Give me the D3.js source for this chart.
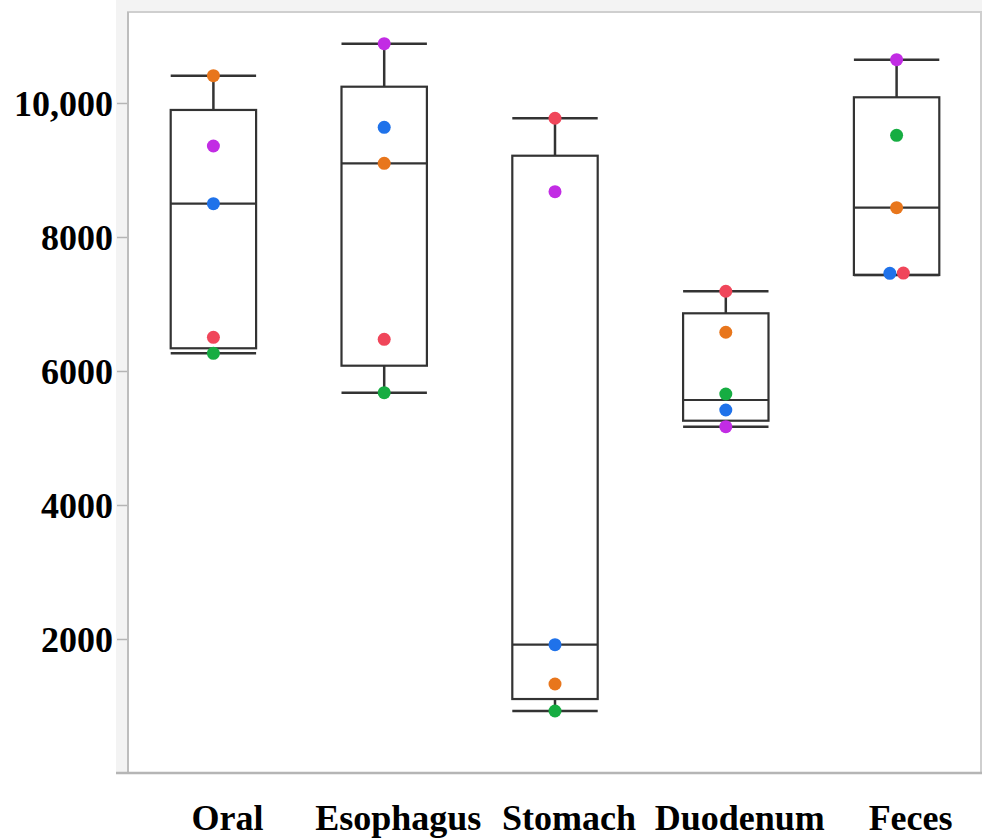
<!DOCTYPE html>
<html>
<head>
<meta charset="utf-8">
<script src="https://cdn.jsdelivr.net/npm/d3@7"></script>
<style>
  html, body { margin: 0; padding: 0; background: #fff; }
  svg { display: block; }
  .tick-label { font-family: "Liberation Serif", "Times New Roman", serif; font-weight: bold; fill: #000; }
</style>
</head>
<body>
<svg id="chart" width="982" height="839"></svg>
<script>
// Sample sites along the digestive tract
const categories = ["Oral", "Esophagus", "Stomach", "Duodenum", "Feces"];

// Individual subject values per site (same order as categories)
const subjectOrange = [10407, 9100, 1328, 6578, 8437];
const subjectPurple = [9358, 10885, 8676, 5169, 10646];
const subjectBlue   = [8497, 9637, 1915, 5418, 7458];
const subjectRed    = [6503, 6473, 9772, 7190, 7462];
const subjectGreen  = [6264, 5676, 925, 5657, 9518];

// Box summary per site
const whiskerLow  = [6264, 5676, 925, 5169, 7433];
const quartile1   = [6339, 6079, 1104, 5258, 7433];
const medianVal   = [8497, 9100, 1915, 5567, 8437];
const quartile3   = [9896, 10243, 9213, 6861, 10085];
const whiskerHigh = [10407, 10885, 9772, 7190, 10646];

// Axis ticks
const yTicks = [2000, 4000, 6000, 8000, 10000];
const yTickLabels = ["2000", "4000", "6000", "8000", "10,000"];

const series = [
  { name: "orange", color: "#e8761c", values: subjectOrange },
  { name: "purple", color: "#c22ce4", values: subjectPurple },
  { name: "blue",   color: "#1f72ea", values: subjectBlue },
  { name: "red",    color: "#f0465a", values: subjectRed },
  { name: "green",  color: "#16ad42", values: subjectGreen }
];

const svg = d3.select("#chart");
const W = 982, H = 839;
const plot = { left: 128, right: 981, top: 12, bottom: 773 };

const x = d3.scaleBand().domain(categories).range([plot.left, W]).padding(0);
const y = d3.scaleLinear().domain([0, 11358]).range([plot.bottom, plot.top]);

// Outer light frame and plot panel
svg.append("rect")
  .attr("x", 116).attr("y", 0)
  .attr("width", W - 116).attr("height", plot.bottom)
  .attr("fill", "#f3f3f3");
svg.append("rect")
  .attr("x", plot.left).attr("y", plot.top)
  .attr("width", plot.right - plot.left).attr("height", plot.bottom - plot.top)
  .attr("fill", "#ffffff")
  .attr("stroke", "#cfcfcf").attr("stroke-width", 2);

// Y axis
const yAxis = d3.axisLeft(y)
  .tickValues(yTicks)
  .tickFormat((d, i) => yTickLabels[i])
  .tickSize(11)
  .tickPadding(4);
const gy = svg.append("g").attr("transform", `translate(${plot.left},0)`).call(yAxis);
gy.select(".domain").remove();
gy.selectAll(".tick line").attr("stroke", "#b5b5b5").attr("stroke-width", 1.5);
gy.selectAll(".tick text")
  .attr("class", "tick-label")
  .attr("font-size", 36)
  .attr("dy", "0.34em");
svg.append("line")
  .attr("x1", plot.left).attr("x2", plot.left)
  .attr("y1", plot.top).attr("y2", plot.bottom)
  .attr("stroke", "#bdbdbd").attr("stroke-width", 2);

// X axis
const xAxis = d3.axisBottom(x).tickSize(0).tickPadding(0);
const gx = svg.append("g").attr("transform", `translate(0,${plot.bottom})`).call(xAxis);
gx.select(".domain").remove();
gx.selectAll(".tick text")
  .attr("class", "tick-label")
  .attr("font-size", 36)
  .attr("dx", 14)
  .attr("y", 57)
  .attr("dy", 0);
svg.append("line")
  .attr("x1", 116).attr("x2", W)
  .attr("y1", plot.bottom).attr("y2", plot.bottom)
  .attr("stroke", "#b5b5b5").attr("stroke-width", 2.5);

// Box plots
const boxW = x.bandwidth() * 0.5;
const stroke = "#333333";
const boxes = categories.map((c, i) => ({
  cat: c, lo: whiskerLow[i], q1: quartile1[i], med: medianVal[i], q3: quartile3[i], hi: whiskerHigh[i]
}));
const gb = svg.append("g");
boxes.forEach(b => {
  const cx = x(b.cat) + x.bandwidth() / 2;
  const g = gb.append("g").attr("stroke", stroke).attr("fill", "none");
  // whiskers
  g.append("line").attr("x1", cx).attr("x2", cx).attr("y1", y(b.hi)).attr("y2", y(b.q3)).attr("stroke-width", 2.5);
  g.append("line").attr("x1", cx).attr("x2", cx).attr("y1", y(b.q1)).attr("y2", y(b.lo)).attr("stroke-width", 2.5);
  g.append("line").attr("x1", cx - boxW / 2).attr("x2", cx + boxW / 2).attr("y1", y(b.hi)).attr("y2", y(b.hi)).attr("stroke-width", 2.5);
  g.append("line").attr("x1", cx - boxW / 2).attr("x2", cx + boxW / 2).attr("y1", y(b.lo)).attr("y2", y(b.lo)).attr("stroke-width", 2.5);
  // box
  g.append("rect")
    .attr("x", cx - boxW / 2).attr("y", y(b.q3))
    .attr("width", boxW).attr("height", y(b.q1) - y(b.q3))
    .attr("stroke-width", 2.2);
  // median
  g.append("line").attr("x1", cx - boxW / 2).attr("x2", cx + boxW / 2).attr("y1", y(b.med)).attr("y2", y(b.med)).attr("stroke-width", 2.2);
});

// Points: overlapping points within a site are spread sideways
const r = 6.5;
const points = [];
categories.forEach((c, ci) => {
  const cx = x(c) + x.bandwidth() / 2;
  const pts = series.map((s, si) => ({ cat: c, si, color: s.color, v: s.values[ci], py: y(s.values[ci]), px: cx }));
  const used = new Set();
  pts.forEach((p, i) => {
    if (used.has(i)) return;
    const group = pts.filter((q, j) => !used.has(j) && Math.abs(q.py - p.py) < 3);
    group.forEach((q, k) => {
      used.add(pts.indexOf(q));
      q.px = cx + (k - (group.length - 1) / 2) * 13.5;
    });
  });
  points.push(...pts);
});

svg.append("g")
  .selectAll("circle")
  .data(points)
  .join("circle")
  .attr("cx", d => d.px)
  .attr("cy", d => d.py)
  .attr("r", r)
  .attr("fill", d => d.color);
</script>
</body>
</html>
